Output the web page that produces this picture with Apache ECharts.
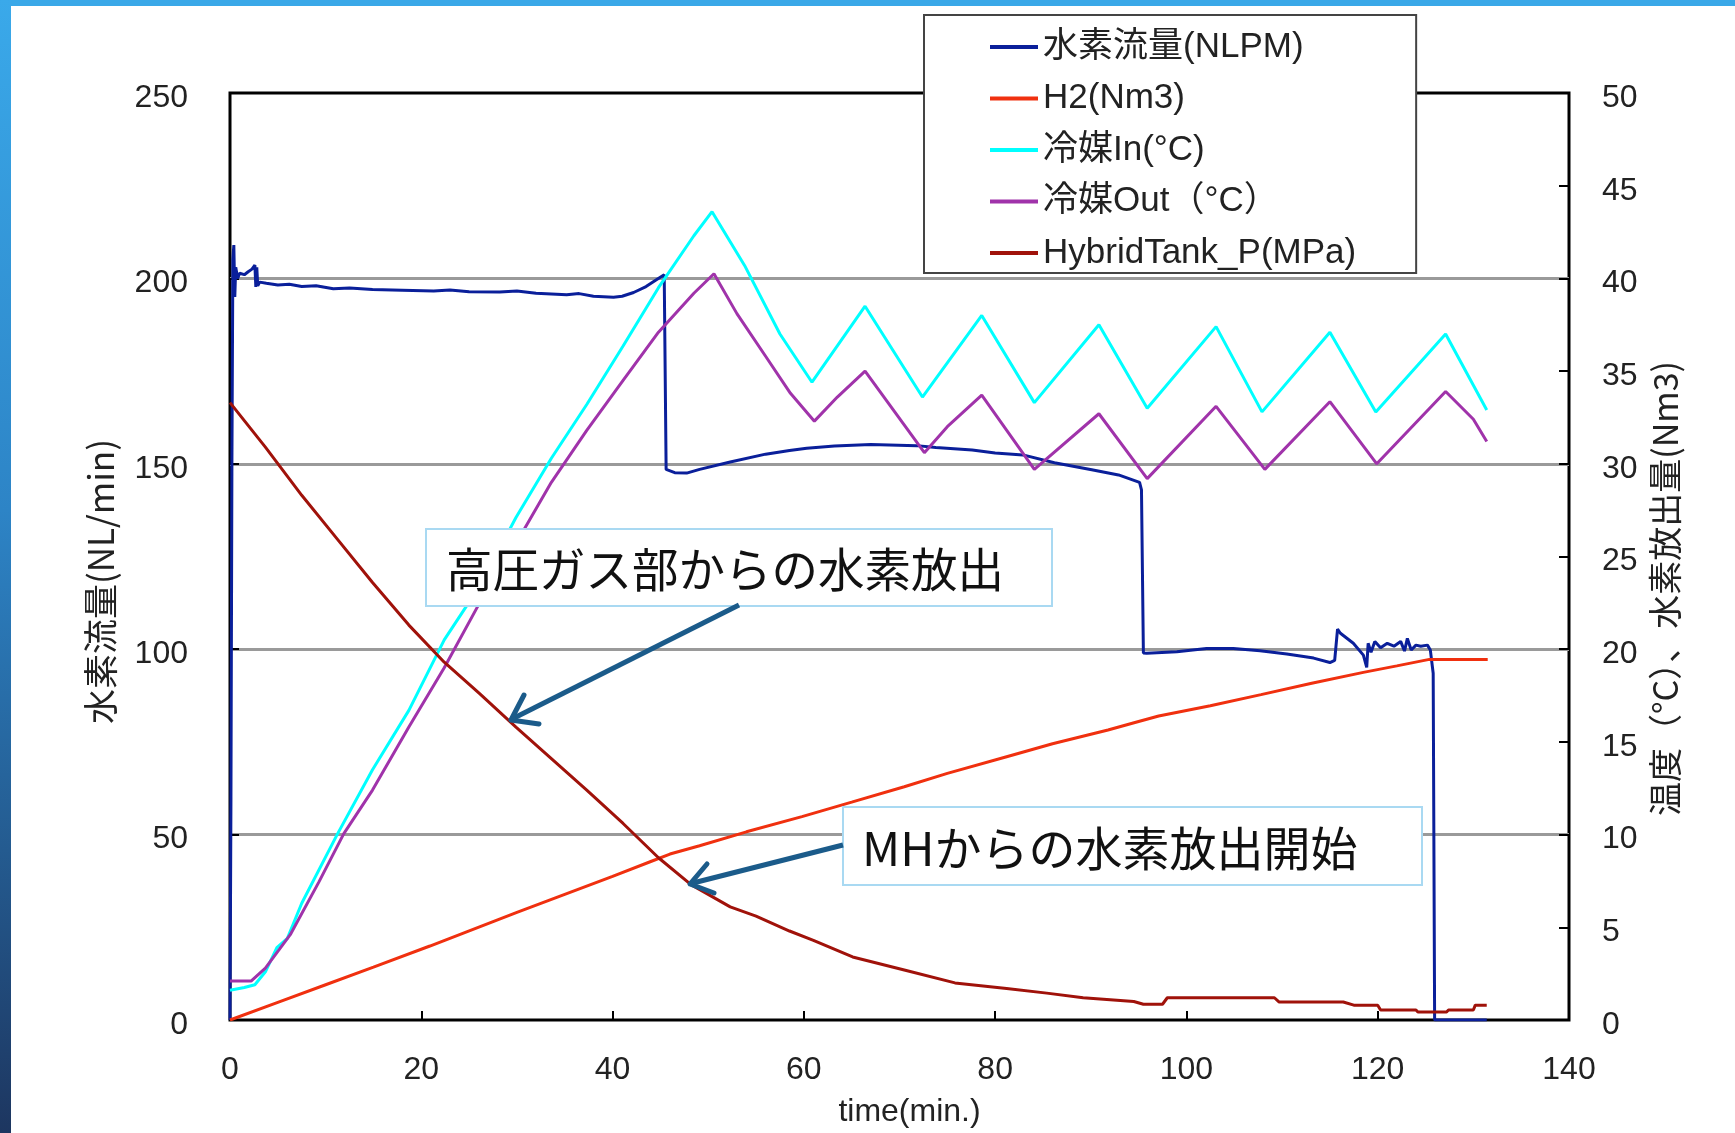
<!DOCTYPE html>
<html>
<head>
<meta charset="utf-8">
<script src="https://cdn.jsdelivr.net/npm/echarts@6/dist/echarts.min.js"></script>
<style>
  html, body { margin: 0; padding: 0; background: #fff; }
  #chart { width: 1735px; height: 1133px; }
</style>
</head>
<body>
<div id="chart"></div>
<script>
// Hydrogen release test: time (min) vs. flow, released volume, coolant temperatures and tank pressure.

const seriesNames = ['水素流量(NLPM)', 'H2(Nm3)', '冷媒In(°C)', '冷媒Out（°C）', 'HybridTank_P(MPa)'];

const xTicks = { min: 0, max: 140, step: 20 };
const leftTicks = { min: 0, max: 250, step: 50 };
const rightTicks = { min: 0, max: 50, step: 5 };

// [time(min), NL/min] — left axis
const flowNLPM = [
  [0, 0], [0.1, 60], [0.2, 150], [0.3, 205], [0.4, 209], [0.5, 195], [0.6, 203], [0.8, 200],
  [1.0, 201.4], [1.5, 201], [1.9, 201.8], [2.3, 202.5], [2.6, 203.6], [2.7, 197.7], [2.8, 203],
  [2.9, 198], [3.1, 199], [3.8, 198.7], [5, 198.2], [6.2, 198.4], [7.5, 197.8], [9, 198],
  [10.8, 197.2], [12.5, 197.4], [14.9, 197], [18, 196.8], [21.3, 196.6], [23, 196.9], [25, 196.4],
  [28.2, 196.3], [30, 196.6], [32, 196], [35.2, 195.6], [36.5, 195.9], [38, 195.2],
  [40.1, 194.9], [41, 195.2], [42.2, 196.2], [43.5, 197.8], [44.5, 199.5], [45.4, 201],
  [45.6, 148.5], [46.5, 147.6], [47.75, 147.5], [49.1, 148.5], [52.3, 150.5], [56, 152.6],
  [58.5, 153.6], [60.3, 154.2], [63.2, 154.8], [67, 155.2], [71.8, 154.9], [73.8, 154.4],
  [77.6, 153.7], [80, 152.9], [82.9, 152.4], [86.2, 150.3], [90.1, 148.4], [92.9, 147],
  [95.1, 145], [95.3, 143], [95.5, 99], [95.85, 98.9], [99, 99.3], [102.1, 100.2], [104.9, 100.2],
  [107.7, 99.6], [110.5, 98.7], [113.3, 97.6], [115, 96.4], [115.5, 97], [115.8, 105.4],
  [116.1, 104.3], [117.45, 101.6], [118.5, 98.4], [118.85, 95.1], [119, 101.6], [119.3, 99.2],
  [119.7, 102.1], [120.3, 100.4], [121, 101.6], [121.7, 100.8], [122.4, 102.1], [122.8, 99.5],
  [123.1, 102.9], [123.5, 99.8], [124, 101.1], [124.5, 100.8], [125.2, 101.1], [125.5, 99.8],
  [125.8, 93.5], [125.95, 0], [131.4, 0]
];

// [time(min), Nm3] — right axis
const h2Nm3 = [
  [0, 0], [5, 0.95], [10, 1.9], [15, 2.85], [20.9, 3.99], [30, 5.8], [40, 7.75], [44, 8.55],
  [46, 8.95], [49.1, 9.4], [54, 10.15], [59.8, 10.97], [65, 11.75], [70.5, 12.58], [75, 13.3],
  [81.2, 14.2], [86, 14.9], [91.8, 15.64], [95, 16.1], [97.1, 16.4], [102.5, 16.95], [107.8, 17.55],
  [113.1, 18.16], [118.5, 18.75], [122, 19.1], [125.4, 19.45], [131.5, 19.45]
];

// [time(min), °C] — right axis
const coolantIn = [
  [0, 1.6], [1.5, 1.75], [2.6, 1.9], [3.7, 2.6], [4.9, 3.9], [6.0, 4.4], [7.5, 6.3], [11.2, 10.0],
  [14.9, 13.5], [18.7, 16.7], [22.4, 20.5], [26.1, 23.4], [29.9, 27.1], [33.6, 30.3], [37.3, 33.2],
  [41.1, 36.35], [44.8, 39.5], [48.5, 42.3], [50.4, 43.6], [53.8, 40.7], [57.5, 37.0],
  [60.85, 34.4], [66.4, 38.5], [72.4, 33.6], [78.6, 38.0], [84.1, 33.3], [90.85, 37.5],
  [95.9, 33.0], [103.1, 37.4], [107.9, 32.8], [115.0, 37.1], [119.8, 32.8], [127.1, 37.0],
  [131.4, 32.9]
];

// [time(min), °C] — right axis
const coolantOut = [
  [0, 2.1], [2.2, 2.1], [3.7, 2.8], [6.3, 4.6], [9.3, 7.45], [11.9, 10.05], [14.9, 12.4],
  [18.7, 15.8], [22.4, 19.0], [26.1, 22.5], [29.9, 25.7], [33.6, 29.0], [37.3, 31.8], [41.1, 34.5],
  [44.8, 37.1], [48.5, 39.2], [50.6, 40.25], [53.0, 38.1], [56.0, 35.8], [58.6, 33.8], [61.1, 32.3],
  [63.5, 33.6], [66.4, 35.0], [72.6, 30.6], [75, 32.0], [78.6, 33.7], [84.1, 29.7], [90.85, 32.7],
  [95.9, 29.2], [103.1, 33.1], [108.2, 29.7], [115.0, 33.35], [119.9, 30.0], [127.1, 33.9],
  [130.0, 32.4], [131.4, 31.2]
];

// [time(min), MPa] — right axis
const tankPressure = [
  [0, 33.3], [3.7, 30.9], [7.5, 28.3], [11.2, 25.95], [14.9, 23.6], [18.7, 21.3], [22.4, 19.3],
  [26.1, 17.6], [29.9, 15.8], [33.6, 14.1], [37.3, 12.4], [41.1, 10.6], [44.8, 8.75], [48.2, 7.3],
  [52.3, 6.1], [55, 5.6], [58.5, 4.8], [61, 4.3], [65.1, 3.4], [70.5, 2.7], [75.8, 2.0], [81.2, 1.7],
  [85.4, 1.45], [89.2, 1.2], [94.5, 1.0], [95.5, 0.85], [97.5, 0.85], [98, 1.2], [109.2, 1.2],
  [109.7, 0.97], [116.4, 0.97], [117.5, 0.8], [120, 0.8], [120.3, 0.54], [124, 0.54], [124.2, 0.43],
  [127.2, 0.43], [127.4, 0.54], [130, 0.54], [130.2, 0.8], [131.4, 0.8]
];

const noteHighPressure = '高圧ガス部からの水素放出';
const noteMH = 'MHからの水素放出開始';
const xAxisName = 'time(min.)';
const leftAxisName = '水素流量(NL/min)';
const rightAxisName = '温度（°C）、水素放出量(Nm3)';

const colors = ['#0a1f9a', '#f0300f', '#00ffff', '#a033aa', '#a0120a'];
const seriesData = [flowNLPM, h2Nm3, coolantIn, coolantOut, tankPressure];
const seriesAxis = [0, 1, 1, 1, 1];

const numFont = '"Liberation Sans", "Noto Sans CJK JP", sans-serif';
const cjkFont = '"Noto Sans CJK JP", "Liberation Sans", sans-serif';

const chart = echarts.init(document.getElementById('chart'), null, { renderer: 'canvas' });

const arrowColor = '#1b5b8a';

// value labels sit a few pixels below their tick
const yLabelStyle = {
  fontSize: 32, color: '#222', fontFamily: numFont,
  verticalAlign: 'top', lineHeight: 10
};

chart.setOption({
  backgroundColor: '#ffffff',
  animation: false,
  grid: {
    left: 230, top: 93, width: 1339, height: 927,
    show: true, borderColor: '#000', borderWidth: 3, backgroundColor: 'transparent'
  },
  legend: {
    orient: 'vertical',
    left: 924, top: 15,
    data: seriesNames,
    icon: 'rect',
    itemWidth: 48, itemHeight: 4,
    itemGap: 11.5,
    padding: [12, 60, 0, 66],
    backgroundColor: '#fff',
    borderColor: '#444', borderWidth: 2,
    textStyle: { fontSize: 35, color: '#222', fontFamily: numFont, lineHeight: 40 },
    z: 20
  },
  xAxis: {
    type: 'value', min: xTicks.min, max: xTicks.max, interval: xTicks.step,
    axisLine: { show: false },
    axisTick: { show: true, inside: true, length: 9, lineStyle: { color: '#000', width: 2 } },
    axisLabel: { fontSize: 32, color: '#222', fontFamily: numFont, margin: 34 },
    splitLine: { show: false },
    name: xAxisName, nameLocation: 'middle', nameGap: 76,
    nameTextStyle: { fontSize: 32, color: '#222', fontFamily: numFont, padding: [0, 0, 0, 20] }
  },
  yAxis: [
    {
      type: 'value', position: 'left', min: leftTicks.min, max: leftTicks.max, interval: leftTicks.step,
      axisLine: { show: false },
      axisTick: { show: true, inside: true, length: 9, lineStyle: { color: '#000', width: 2 } },
      axisLabel: Object.assign({ margin: 42 }, yLabelStyle),
      splitLine: { show: true, showMinLine: false, showMaxLine: false, lineStyle: { color: '#9a9a9a', width: 3 } },
      name: leftAxisName, nameLocation: 'middle', nameRotate: 90, nameGap: 112,
      nameTextStyle: { fontSize: 35, color: '#222', fontFamily: cjkFont, padding: [0, 50, 0, 0] }
    },
    {
      type: 'value', position: 'right', min: rightTicks.min, max: rightTicks.max, interval: rightTicks.step,
      axisLine: { show: false },
      axisTick: { show: true, inside: true, length: 10, lineStyle: { color: '#000', width: 2 } },
      axisLabel: Object.assign({ margin: 33 }, yLabelStyle),
      splitLine: { show: false },
      name: rightAxisName, nameLocation: 'middle', nameRotate: 90, nameGap: 78,
      nameTextStyle: { fontSize: 34, color: '#222', fontFamily: cjkFont, padding: [0, 64, 0, 0] }
    }
  ],
  series: seriesNames.map((name, i) => ({
    name: name,
    type: 'line',
    yAxisIndex: seriesAxis[i],
    data: seriesData[i],
    showSymbol: false,
    symbol: 'none',
    color: colors[i],
    lineStyle: { color: colors[i], width: 3 },
    z: 2 + i
  })),
  graphic: [
    // frame strips along the top and left edges
    { type: 'rect', shape: { x: 0, y: 0, width: 1735, height: 6 }, style: { fill: '#3aa8e8' }, z: 100 },
    {
      type: 'rect', shape: { x: 0, y: 0, width: 11, height: 1133 },
      style: {
        fill: new echarts.graphic.LinearGradient(0, 0, 0, 1, [
          { offset: 0, color: '#3aa9ea' },
          { offset: 0.45, color: '#2d84c6' },
          { offset: 0.75, color: '#245b90' },
          { offset: 1, color: '#1d3660' }
        ])
      },
      z: 100
    },
    // annotation: release from the high-pressure section
    { type: 'rect', shape: { x: 426, y: 529, width: 626, height: 77 },
      style: { fill: '#fff', stroke: '#a9d9f2', lineWidth: 2 }, z: 50 },
    { type: 'text', x: 446, y: 569,
      style: { text: noteHighPressure, fontSize: 46.5, fontFamily: cjkFont, fill: '#111', align: 'left', verticalAlign: 'middle' },
      z: 51 },
    { type: 'polyline', shape: { points: [[739, 605], [514, 718]] },
      style: { stroke: arrowColor, lineWidth: 5, fill: null }, z: 51 },
    { type: 'polyline', shape: { points: [[524, 695], [511, 720], [539, 724]] },
      style: { stroke: arrowColor, lineWidth: 5, fill: null, lineJoin: 'round', lineCap: 'round' }, z: 51 },
    // annotation: start of release from the metal hydride
    { type: 'rect', shape: { x: 843, y: 807, width: 579, height: 78 },
      style: { fill: '#fff', stroke: '#a9d9f2', lineWidth: 2 }, z: 50 },
    { type: 'text', x: 862, y: 848,
      style: { text: noteMH, fontSize: 47, fontFamily: cjkFont, fill: '#111', align: 'left', verticalAlign: 'middle' },
      z: 51 },
    { type: 'polyline', shape: { points: [[843, 845], [693, 883]] },
      style: { stroke: arrowColor, lineWidth: 5, fill: null }, z: 51 },
    { type: 'polyline', shape: { points: [[707, 864], [690, 884], [714, 893]] },
      style: { stroke: arrowColor, lineWidth: 5, fill: null, lineJoin: 'round', lineCap: 'round' }, z: 51 }
  ]
});
</script>
</body>
</html>
